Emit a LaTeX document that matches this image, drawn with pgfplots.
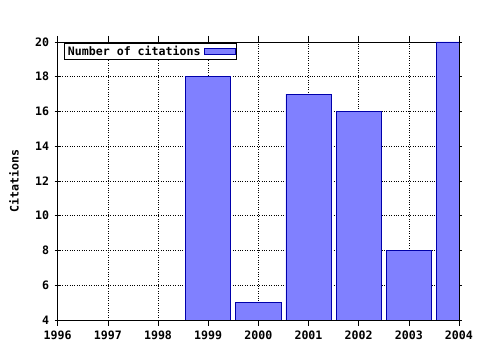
\documentclass[border=0pt]{standalone}
\usepackage{fontspec}
\setmainfont{DejaVu Sans Mono}[BoldFont={DejaVu Sans Mono Bold}]
\usepackage{pgfplots}
\pgfplotsset{compat=1.18}
\definecolor{barfill}{RGB}{128,128,255}
\definecolor{baredge}{RGB}{0,0,170}
\begin{document}
\begin{tikzpicture}
\useasboundingbox (-57.7pt,-30pt) rectangle (422.3pt,320pt);
\begin{axis}[
  at={(0,0)}, anchor=south west,
  scale only axis,
  width=401.3pt, height=278pt,
  xmin=1996, xmax=2004, ymin=4, ymax=20,
  xtick={1996,...,2004}, ytick={4,6,...,20},
  minor x tick num=3,
  tick align=center,
  major tick length=6pt, minor tick length=3pt,
  every tick/.style={black, line width=0.6pt},
  xticklabel style={/pgf/number format/1000 sep=, yshift=-1pt},
  yticklabel style={xshift=-2pt},
  /pgf/number format/assume math mode=true,
  font=\fontsize{11.6}{13}\selectfont\bfseries,
  grid=major,
  major grid style={black, dotted, line width=0.6pt},
  axis line style={black, line width=0.8pt},
  ylabel={Citations},
  ylabel style={at={(axis description cs:-0.109,0.5)}, anchor=center},
  ybar, bar width=0.9,
  legend style={at={(axis description cs:0.0157,0.996)}, anchor=north west,
    draw=black, line width=0.8pt, inner sep=0.5pt, row sep=0pt,
    font=\fontsize{11.6}{13}\selectfont\bfseries,
    nodes={inner xsep=3pt}},
  legend plot pos=right,
  legend image code/.code={\draw[fill=barfill, draw=baredge, line width=0.6pt] (0.1cm,-0.1cm) rectangle (1.2cm,0.1cm);},
]
\addplot[fill=barfill, draw=baredge, line width=0.6pt] coordinates {
  (1999,18) (2000,5) (2001,17) (2002,16) (2003,8) (2004,20)
};
\addlegendentry{Number of citations}
\end{axis}
\end{tikzpicture}
\end{document}
